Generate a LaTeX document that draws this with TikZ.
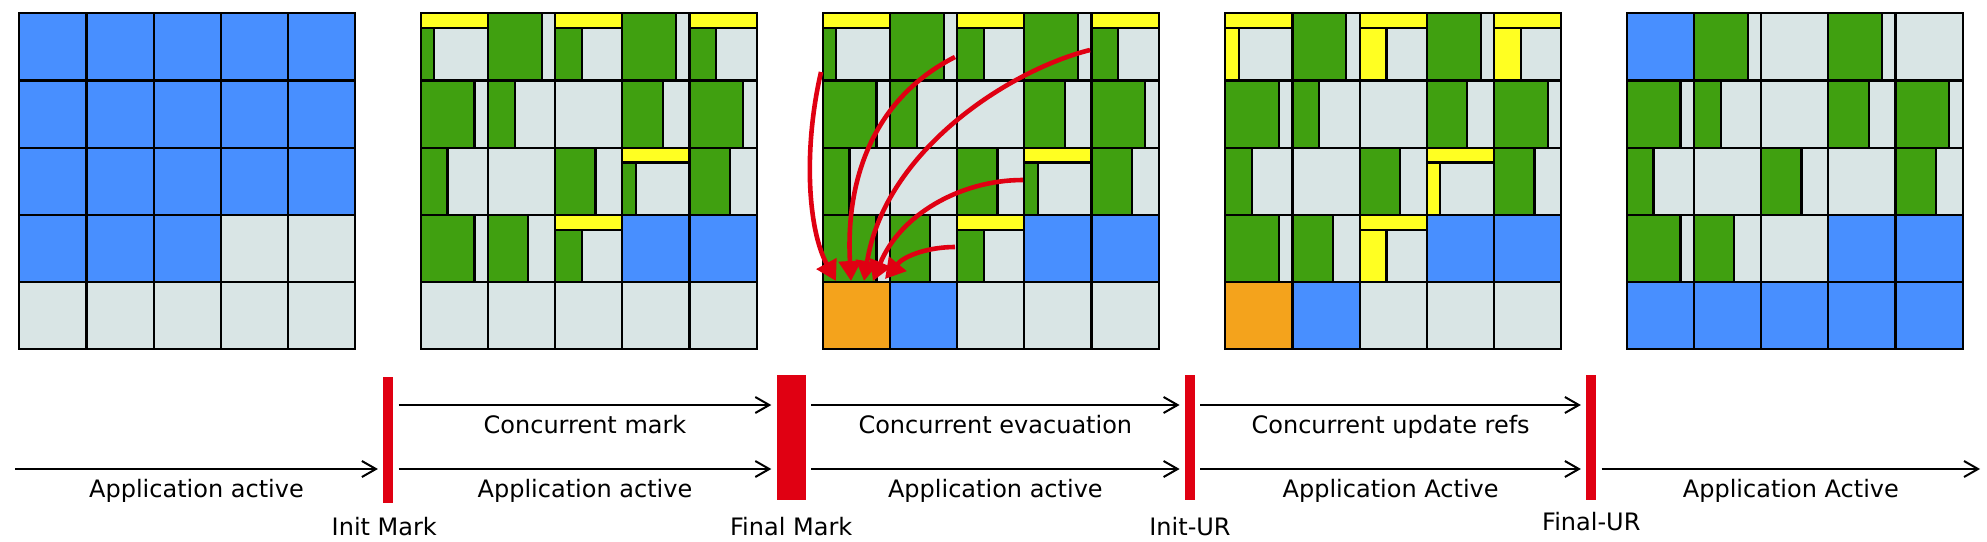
\documentclass[tikz,border=0pt]{standalone}
\usepackage{fontspec}
\setmainfont{DejaVu Sans}
\usetikzlibrary{arrows.meta,positioning}

\definecolor{heapblue}{RGB}{72,143,255}
\definecolor{heapgreen}{RGB}{64,160,16}
\definecolor{heapgray}{RGB}{217,229,229}
\definecolor{heapyellow}{RGB}{255,255,34}
\definecolor{heaporange}{RGB}{244,163,28}
\definecolor{pausered}{RGB}{224,0,18}

\tikzset{
  region/.style={draw=black,line width=1.1pt},
  pause/.style={fill=pausered,inner sep=0pt,minimum width=5pt,minimum height=62.7pt},
  flow/.style={line width=1pt,-{Straight Barb[length=7pt,width=8pt]},shorten <=2.5pt,shorten >=2.5pt},
  phase/.style={inner sep=0pt,text height=9pt,text depth=2.5pt,font=\fontsize{12}{14}\selectfont},
  copy/.style={pausered,line width=2.3pt,-{Triangle[length=10pt,width=11pt]}}
}

% a region of the heap: whole, partly live, or in the collection set
\newcommand{\regionfull}[3]{\filldraw[region,fill=#3] (#1,#2) rectangle ++(1,1);}
\newcommand{\regionlive}[3]{%
  \filldraw[region,fill=heapgray] (#1,#2) rectangle ++(1,1);
  \filldraw[region,fill=heapgreen] (#1,#2) rectangle ++(#3,1);}
\newcommand{\regioncset}[4]{%
  \filldraw[region,fill=heapgray] (#1,#2) rectangle ++(1,1);
  \filldraw[region,fill=#4] (#1,#2+0.22) rectangle ++(#3,0.78);
  \filldraw[region,fill=heapyellow] (#1,#2) rectangle ++(1,0.22);}

% rows 0-3 after marking, #1 = colour of live data in the collection set
\newcommand{\markedrows}[1]{%
  \regioncset{0}{0}{0.2}{#1} \regionlive{1}{0}{0.8} \regioncset{2}{0}{0.4}{#1}
  \regionlive{3}{0}{0.8} \regioncset{4}{0}{0.4}{#1}
  \regionlive{0}{1}{0.8} \regionlive{1}{1}{0.4} \regionfull{2}{1}{heapgray}
  \regionlive{3}{1}{0.6} \regionlive{4}{1}{0.8}
  \regionlive{0}{2}{0.4} \regionfull{1}{2}{heapgray} \regionlive{2}{2}{0.6}
  \regioncset{3}{2}{0.2}{#1} \regionlive{4}{2}{0.6}
  \regionlive{0}{3}{0.8} \regionlive{1}{3}{0.6} \regioncset{2}{3}{0.4}{#1}
  \regionfull{3}{3}{heapblue} \regionfull{4}{3}{heapblue}}

\begin{document}
\begin{tikzpicture}[x=0.5pt,y=-0.5pt]
\useasboundingbox (0,0) rectangle (1987,541);

% heap before the cycle
\begin{scope}[shift={(19.3,13.3)},scale=67.2]
\foreach \i in {0,...,4} {\foreach \j in {0,1,2} {\regionfull{\i}{\j}{heapblue}}}
\foreach \i in {0,1,2} {\regionfull{\i}{3}{heapblue}}
\regionfull{3}{3}{heapgray} \regionfull{4}{3}{heapgray}
\foreach \i in {0,...,4} {\regionfull{\i}{4}{heapgray}}
\end{scope}

% after concurrent mark
\begin{scope}[shift={(420.7,13.3)},scale=67.2]
\markedrows{heapgreen}
\foreach \i in {0,...,4} {\regionfull{\i}{4}{heapgray}}
\end{scope}

% during evacuation
\begin{scope}[shift={(822.7,13.3)},scale=67.2]
\markedrows{heapgreen}
\regionfull{0}{4}{heaporange} \regionfull{1}{4}{heapblue}
\foreach \i in {2,3,4} {\regionfull{\i}{4}{heapgray}}
\end{scope}
\draw[copy] (821,72) .. controls (803,150) and (808,230) .. (836,281);
\draw[copy] (955,57) .. controls (880,95) and (845,170) .. (851,281);
\draw[copy] (1090,50) .. controls (1010,70) and (885,150) .. (864,281);
\draw[copy] (1023,180) .. controls (960,180) and (900,215) .. (873,281);
\draw[copy] (955,247) .. controls (930,247) and (905,255) .. (885,279);

% during update refs
\begin{scope}[shift={(1225.3,13.3)},scale=67.2]
\markedrows{heapyellow}
\regionfull{0}{4}{heaporange} \regionfull{1}{4}{heapblue}
\foreach \i in {2,3,4} {\regionfull{\i}{4}{heapgray}}
\end{scope}

% after the cycle
\begin{scope}[shift={(1626.7,13.3)},scale=67.2]
\regionfull{0}{0}{heapblue} \regionlive{1}{0}{0.8} \regionfull{2}{0}{heapgray}
\regionlive{3}{0}{0.8} \regionfull{4}{0}{heapgray}
\regionlive{0}{1}{0.8} \regionlive{1}{1}{0.4} \regionfull{2}{1}{heapgray}
\regionlive{3}{1}{0.6} \regionlive{4}{1}{0.8}
\regionlive{0}{2}{0.4} \regionfull{1}{2}{heapgray} \regionlive{2}{2}{0.6}
\regionfull{3}{2}{heapgray} \regionlive{4}{2}{0.6}
\regionlive{0}{3}{0.8} \regionlive{1}{3}{0.6} \regionfull{2}{3}{heapgray}
\regionfull{3}{3}{heapblue} \regionfull{4}{3}{heapblue}
\foreach \i in {0,...,4} {\regionfull{\i}{4}{heapblue}}
\end{scope}

% timeline
\coordinate (gclane) at (0,405);
\coordinate (applane) at (0,469);
\coordinate (appstart) at (10,469);
\coordinate (append) at (1985,469);
\node[pause,minimum height=63pt] (initmark) at (388.3,440) {};
\node[pause,minimum width=14.5pt] (finalmark) at (791.2,437.3) {};
\node[pause] (initur) at (1190,437.3) {};
\node[pause] (finalur) at (1591.3,437.3) {};

\draw[flow] (appstart) -- (initmark.west |- applane) node[phase,midway,below=4.5pt] (app1) {Application active};
\draw[flow] (initmark.east |- gclane) -- (finalmark.west |- gclane) node[phase,midway,below=4.5pt] (gc1) {Concurrent mark};
\draw[flow] (initmark.east |- applane) -- (finalmark.west |- applane) node[phase,midway,below=4.5pt] (app2) {Application active};
\draw[flow] (finalmark.east |- gclane) -- (initur.west |- gclane) node[phase,midway,below=4.5pt] (gc2) {Concurrent evacuation};
\draw[flow] (finalmark.east |- applane) -- (initur.west |- applane) node[phase,midway,below=4.5pt] (app3) {Application active};
\draw[flow] (initur.east |- gclane) -- (finalur.west |- gclane) node[phase,midway,below=4.5pt] (gc3) {Concurrent update refs};
\draw[flow] (initur.east |- applane) -- (finalur.west |- applane) node[phase,midway,below=4.5pt] (app4) {Application Active};
\draw[flow] (finalur.east |- applane) -- (append) node[phase,midway,below=4.5pt] (app5) {Application Active};

\node[phase,below=6.75pt of initmark,xshift=-2pt] (initmarklabel) {Init Mark};
\node[phase,below=8.1pt of finalmark] (finalmarklabel) {Final Mark};
\node[phase,below=8.1pt of initur] (initurlabel) {Init-UR};
\node[phase,below=5.6pt of finalur] (finalurlabel) {Final-UR};
\end{tikzpicture}
\end{document}
